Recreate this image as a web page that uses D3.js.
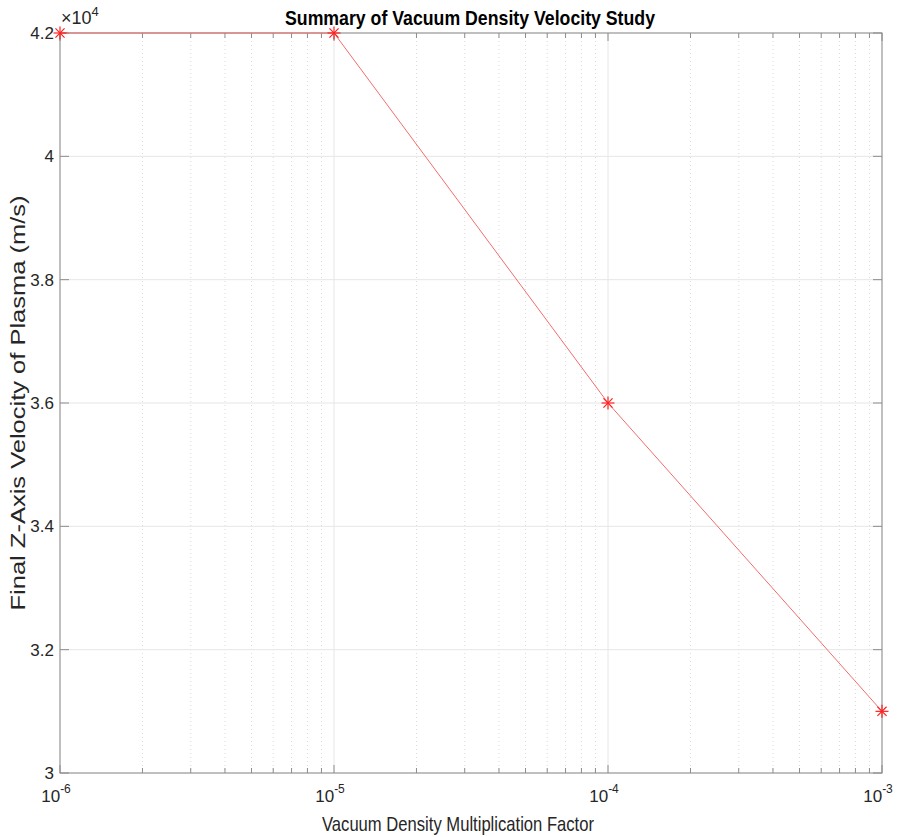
<!DOCTYPE html>
<html>
<head>
<meta charset="utf-8">
<script src="https://cdn.jsdelivr.net/npm/d3@7"></script>
<style>
  body { margin: 0; background: #fff; }
  svg { font-family: "Liberation Sans", Arial, sans-serif; }
</style>
</head>
<body>
<svg id="chart" width="898" height="837"></svg>
<script>
// data
const densityFactor = [1e-6, 1e-5, 1e-4, 1e-3];
const finalVelocity = [42000, 42000, 36000, 31000];
const yTicks = [30000, 32000, 34000, 36000, 38000, 40000, 42000];
const xDecades = [1e-6, 1e-5, 1e-4, 1e-3];

const margin = { left: 60, right: 16, top: 33, bottom: 64 };
const W = 898, H = 837;
const svg = d3.select('#chart');

const x = d3.scaleLog().domain([1e-6, 1e-3]).range([margin.left, W - margin.right]);
const y = d3.scaleLinear().domain([30000, 42000]).range([H - margin.bottom, margin.top]);

const x0 = x.range()[0], x1 = x.range()[1];
const y0 = y.range()[0], y1 = y.range()[1];

// minor ticks for log axis
const minor = [];
xDecades.slice(0, -1).forEach(d => {
    for (let k = 2; k <= 9; k++) minor.push(d * k);
});

const grid = svg.append('g');
grid.selectAll('.minor').data(minor).join('line')
    .attr('x1', d => x(d)).attr('x2', d => x(d))
    .attr('y1', y1).attr('y2', y0)
    .attr('stroke', '#dcdcdc').attr('stroke-width', 1)
    .attr('stroke-dasharray', '1,3');
grid.selectAll('.vmaj').data(xDecades).join('line')
    .attr('x1', d => x(d)).attr('x2', d => x(d))
    .attr('y1', y1).attr('y2', y0)
    .attr('stroke', '#e6e6e6');
grid.selectAll('.hmaj').data(yTicks).join('line')
    .attr('x1', x0).attr('x2', x1)
    .attr('y1', d => y(d)).attr('y2', d => y(d))
    .attr('stroke', '#e6e6e6');

// axes box
const axisCol = '#8c8c8c';
svg.append('rect')
    .attr('x', x0).attr('y', y1)
    .attr('width', x1 - x0).attr('height', y0 - y1)
    .attr('fill', 'none').attr('stroke', axisCol);

const ticks = svg.append('g').attr('stroke', axisCol);
// x major & minor ticks, bottom and top, inward
xDecades.forEach(d => {
    ticks.append('line').attr('x1', x(d)).attr('x2', x(d)).attr('y1', y0).attr('y2', y0 - 8);
    ticks.append('line').attr('x1', x(d)).attr('x2', x(d)).attr('y1', y1).attr('y2', y1 + 8);
});
minor.forEach(d => {
    ticks.append('line').attr('x1', x(d)).attr('x2', x(d)).attr('y1', y0).attr('y2', y0 - 5);
    ticks.append('line').attr('x1', x(d)).attr('x2', x(d)).attr('y1', y1).attr('y2', y1 + 5);
});
yTicks.forEach(d => {
    ticks.append('line').attr('x1', x0).attr('x2', x0 + 9).attr('y1', y(d)).attr('y2', y(d));
    ticks.append('line').attr('x1', x1).attr('x2', x1 - 9).attr('y1', y(d)).attr('y2', y(d));
});

// y tick labels
svg.append('g').selectAll('text').data(yTicks).join('text')
    .attr('x', x0 - 6).attr('y', d => y(d) + 6)
    .attr('text-anchor', 'end')
    .attr('font-size', 17).attr('fill', '#262626')
    .text(d => d3.format('.1f')(d / 1e4).replace(/\.0$/, ''));

// x tick labels 10^n
const xl = svg.append('g');
xDecades.forEach(d => {
    const t = xl.append('text')
        .attr('x', x(d) - 4).attr('y', y0 + 29)
        .attr('text-anchor', 'middle')
        .attr('font-size', 17).attr('fill', '#262626');
    t.append('tspan').text('10');
    t.append('tspan').attr('dy', -9).attr('font-size', 12).text(Math.round(Math.log10(d)));
});

// exponent label
const ex = svg.append('text').attr('x', x0 + 1).attr('y', 24)
    .attr('font-size', 18).attr('fill', '#262626');
ex.append('tspan').text('\u00d710');
ex.append('tspan').attr('dy', -8).attr('font-size', 13).text('4');

// data line
const pts = densityFactor.map((d, i) => [d, finalVelocity[i]]);
svg.append('path').datum(pts)
    .attr('d', d3.line().x(d => x(d[0])).y(d => y(d[1])))
    .attr('fill', 'none').attr('stroke', '#f26d6d').attr('stroke-width', 1);

// asterisk markers
const star = svg.append('g').attr('stroke', '#ff2020').attr('stroke-width', 1.2);
pts.forEach(d => {
    const cx = x(d[0]), cy = y(d[1]), r = 6.5;
    star.append('line').attr('x1', cx - r).attr('x2', cx + r).attr('y1', cy).attr('y2', cy);
    star.append('line').attr('x1', cx).attr('x2', cx).attr('y1', cy - r).attr('y2', cy + r);
    star.append('line').attr('x1', cx - r * 0.7).attr('x2', cx + r * 0.7).attr('y1', cy - r * 0.7).attr('y2', cy + r * 0.7);
    star.append('line').attr('x1', cx - r * 0.7).attr('x2', cx + r * 0.7).attr('y1', cy + r * 0.7).attr('y2', cy - r * 0.7);
});

// titles
const cxPlot = (x0 + x1) / 2;
svg.append('text').attr('x', 470).attr('y', 25)
    .attr('text-anchor', 'middle').attr('font-weight', 'bold')
    .attr('font-size', 21).attr('fill', '#000')
    .attr('textLength', 370).attr('lengthAdjust', 'spacingAndGlyphs')
    .text('Summary of Vacuum Density Velocity Study');

svg.append('text').attr('x', 458).attr('y', 831)
    .attr('text-anchor', 'middle')
    .attr('font-size', 21).attr('fill', '#262626')
    .attr('textLength', 272).attr('lengthAdjust', 'spacingAndGlyphs')
    .text('Vacuum Density Multiplication Factor');

svg.append('text')
    .attr('transform', `translate(25,${(y0 + y1) / 2}) rotate(-90)`)
    .attr('text-anchor', 'middle')
    .attr('font-size', 20).attr('fill', '#262626')
    .attr('textLength', 415).attr('lengthAdjust', 'spacingAndGlyphs')
    .text('Final Z-Axis Velocity of Plasma (m/s)');
</script>
</body>
</html>
